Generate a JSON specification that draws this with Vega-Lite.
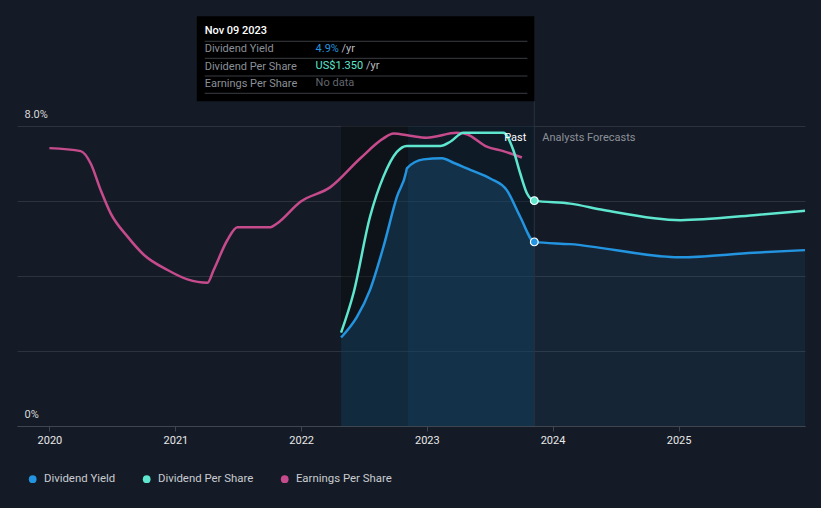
{
  "$schema": "https://vega.github.io/schema/vega-lite/v6.json",
  "width": 788,
  "height": 300,
  "autosize": {"type": "none"},
  "padding": {"left": 17, "top": 126, "right": 16, "bottom": 82},
  "background": "#151b26",
  "config": {
    "view": {"stroke": null},
    "font": "Roboto",
    "text": {"font": "Roboto", "fontSize": 11}
  },
  "datasets": {
    "series": [
      {"date": "2020-01-01", "series": "Earnings Per Share", "value": 7.41},
      {"date": "2020-04-01", "series": "Earnings Per Share", "value": 7.33},
      {"date": "2020-04-30", "series": "Earnings Per Share", "value": 7.0},
      {"date": "2020-05-29", "series": "Earnings Per Share", "value": 6.29},
      {"date": "2020-06-27", "series": "Earnings Per Share", "value": 5.67},
      {"date": "2020-08-15", "series": "Earnings Per Share", "value": 5.05},
      {"date": "2020-10-02", "series": "Earnings Per Share", "value": 4.56},
      {"date": "2020-12-09", "series": "Earnings Per Share", "value": 4.16},
      {"date": "2021-02-05", "series": "Earnings Per Share", "value": 3.91},
      {"date": "2021-04-04", "series": "Earnings Per Share", "value": 3.82},
      {"date": "2021-04-22", "series": "Earnings Per Share", "value": 4.16},
      {"date": "2021-06-01", "series": "Earnings Per Share", "value": 4.96},
      {"date": "2021-06-30", "series": "Earnings Per Share", "value": 5.3},
      {"date": "2021-10-04", "series": "Earnings Per Share", "value": 5.3},
      {"date": "2021-10-23", "series": "Earnings Per Share", "value": 5.4},
      {"date": "2021-12-30", "series": "Earnings Per Share", "value": 5.98},
      {"date": "2022-03-27", "series": "Earnings Per Share", "value": 6.37},
      {"date": "2022-06-22", "series": "Earnings Per Share", "value": 7.14},
      {"date": "2022-08-28", "series": "Earnings Per Share", "value": 7.67},
      {"date": "2022-09-26", "series": "Earnings Per Share", "value": 7.8},
      {"date": "2022-11-13", "series": "Earnings Per Share", "value": 7.74},
      {"date": "2023-01-01", "series": "Earnings Per Share", "value": 7.69},
      {"date": "2023-03-29", "series": "Earnings Per Share", "value": 7.82},
      {"date": "2023-04-27", "series": "Earnings Per Share", "value": 7.78},
      {"date": "2023-06-24", "series": "Earnings Per Share", "value": 7.45},
      {"date": "2023-08-11", "series": "Earnings Per Share", "value": 7.33},
      {"date": "2023-10-04", "series": "Earnings Per Share", "value": 7.16},
      {"date": "2022-04-27", "series": "Dividend Per Share", "value": 2.49},
      {"date": "2022-06-02", "series": "Dividend Per Share", "value": 3.54},
      {"date": "2022-07-20", "series": "Dividend Per Share", "value": 5.58},
      {"date": "2022-08-28", "series": "Dividend Per Share", "value": 6.65},
      {"date": "2022-10-06", "series": "Dividend Per Share", "value": 7.31},
      {"date": "2022-11-04", "series": "Dividend Per Share", "value": 7.47},
      {"date": "2023-02-09", "series": "Dividend Per Share", "value": 7.47},
      {"date": "2023-03-10", "series": "Dividend Per Share", "value": 7.58},
      {"date": "2023-04-17", "series": "Dividend Per Share", "value": 7.82},
      {"date": "2023-08-11", "series": "Dividend Per Share", "value": 7.82},
      {"date": "2023-09-09", "series": "Dividend Per Share", "value": 7.36},
      {"date": "2023-09-29", "series": "Dividend Per Share", "value": 6.74},
      {"date": "2023-10-19", "series": "Dividend Per Share", "value": 6.2},
      {"date": "2023-11-09", "series": "Dividend Per Share", "value": 6.01},
      {"date": "2024-02-21", "series": "Dividend Per Share", "value": 5.93},
      {"date": "2024-05-28", "series": "Dividend Per Share", "value": 5.76},
      {"date": "2025-01-06", "series": "Dividend Per Share", "value": 5.49},
      {"date": "2025-08-07", "series": "Dividend Per Share", "value": 5.62},
      {"date": "2026-01-03", "series": "Dividend Per Share", "value": 5.74},
      {"date": "2022-04-27", "series": "Dividend Yield", "value": 2.36},
      {"date": "2022-06-12", "series": "Dividend Yield", "value": 2.91},
      {"date": "2022-07-20", "series": "Dividend Yield", "value": 3.63},
      {"date": "2022-08-28", "series": "Dividend Yield", "value": 4.78},
      {"date": "2022-10-06", "series": "Dividend Yield", "value": 6.11},
      {"date": "2022-11-02", "series": "Dividend Yield", "value": 6.78},
      {"date": "2022-11-04", "series": "Dividend Yield", "value": 6.87},
      {"date": "2022-12-22", "series": "Dividend Yield", "value": 7.11},
      {"date": "2023-02-14", "series": "Dividend Yield", "value": 7.14},
      {"date": "2023-03-19", "series": "Dividend Yield", "value": 7.02},
      {"date": "2023-05-07", "series": "Dividend Yield", "value": 6.83},
      {"date": "2023-07-04", "series": "Dividend Yield", "value": 6.6},
      {"date": "2023-08-21", "series": "Dividend Yield", "value": 6.29},
      {"date": "2023-09-29", "series": "Dividend Yield", "value": 5.58},
      {"date": "2023-11-09", "series": "Dividend Yield", "value": 4.91},
      {"date": "2024-02-21", "series": "Dividend Yield", "value": 4.85},
      {"date": "2025-01-06", "series": "Dividend Yield", "value": 4.5},
      {"date": "2025-08-07", "series": "Dividend Yield", "value": 4.62},
      {"date": "2026-01-03", "series": "Dividend Yield", "value": 4.69}
    ],
    "bands": [
      {"start": "2022-04-27", "end": "2023-11-09", "band": "dark"},
      {"start": "2022-11-07", "end": "2023-11-09", "band": "past"}
    ],
    "one": [{}]
  },
  "layer": [
    {
      "data": {"name": "bands"},
      "transform": [{"filter": "datum.band == 'dark'"}],
      "mark": {"type": "rect", "color": "#000000", "opacity": 0.32},
      "encoding": {
        "x": {
          "field": "start", "type": "temporal",
          "scale": {"type": "utc", "nice": false, "domain": [{"year": 2019, "month": 9, "date": 29, "utc": true}, {"year": 2026, "month": 1, "date": 3, "utc": true}]},
          "axis": {
            "title": null, "grid": false, "format": "%Y",
            "values": [{"year": 2020, "utc": true}, {"year": 2021, "utc": true}, {"year": 2022, "utc": true}, {"year": 2023, "utc": true}, {"year": 2024, "utc": true}, {"year": 2025, "utc": true}],
            "domainColor": "#40464f", "tickColor": "#40464f", "tickSize": 5,
            "labelColor": "#e8e8e8", "labelFontSize": 11, "labelPadding": 3, "labelFont": "Roboto"
          }
        },
        "x2": {"field": "end"},
        "y": {
          "datum": 0, "type": "quantitative",
          "scale": {"domain": [0, 8], "nice": false},
          "axis": {
            "title": null, "values": [0, 2, 4, 6, 8], "grid": true, "gridColor": "#2d333d",
            "domain": false, "ticks": false,
            "labelExpr": "datum.value == 8 ? '8.0%' : (datum.value == 0 ? '0%' : '')",
            "labelAlign": "left", "labelPadding": -7, "labelBaseline": "middle", "labelOffset": -12,
            "labelColor": "#d5d7da", "labelFontSize": 11, "labelFont": "Roboto"
          }
        },
        "y2": {"datum": 8}
      }
    },
    {
      "data": {"name": "bands"},
      "transform": [{"filter": "datum.band == 'past'"}],
      "mark": {"type": "rect", "color": "#2394df", "opacity": 0.07},
      "encoding": {
        "x": {"field": "start", "type": "temporal"},
        "x2": {"field": "end"},
        "y": {"datum": 0, "type": "quantitative"},
        "y2": {"datum": 8}
      }
    },
    {
      "data": {"name": "series"},
      "transform": [{"filter": "datum.series == 'Dividend Yield' && time(datum.date) <= utc(2023, 10, 9)"}],
      "mark": {"type": "area", "interpolate": "monotone", "color": "#2394df", "opacity": 0.19},
      "encoding": {
        "x": {"field": "date", "type": "temporal"},
        "y": {"field": "value", "type": "quantitative"},
        "y2": {"datum": 0}
      }
    },
    {
      "data": {"name": "series"},
      "transform": [{"filter": "datum.series == 'Dividend Yield' && time(datum.date) >= utc(2023, 10, 9)"}],
      "mark": {"type": "area", "interpolate": "monotone", "color": "#2394df", "opacity": 0.09},
      "encoding": {
        "x": {"field": "date", "type": "temporal"},
        "y": {"field": "value", "type": "quantitative"},
        "y2": {"datum": 0}
      }
    },
    {
      "data": {"name": "one"},
      "mark": {"type": "rule", "color": "#263340", "strokeWidth": 1},
      "encoding": {
        "x": {"datum": {"year": 2023, "month": 11, "date": 9, "utc": true}, "type": "temporal"},
        "y": {"datum": 0, "type": "quantitative"},
        "y2": {"datum": 8.66}
      }
    },
    {
      "data": {"name": "series"},
      "mark": {"type": "line", "interpolate": "monotone", "strokeWidth": 2.5},
      "encoding": {
        "x": {"field": "date", "type": "temporal"},
        "y": {"field": "value", "type": "quantitative"},
        "color": {
          "field": "series", "type": "nominal",
          "scale": {"domain": ["Dividend Yield", "Dividend Per Share", "Earnings Per Share"], "range": ["#2394df", "#5ee6cf", "#c64b8c"]},
          "legend": {
            "title": null, "orient": "none", "legendX": 10, "legendY": 347, "direction": "horizontal",
            "symbolType": "circle", "symbolSize": 60, "columnPadding": 25, "labelOffset": 5.5, "padding": 0,
            "labelColor": "#c9ccd1", "labelFontSize": 11.4, "labelFont": "Roboto",
            "encode": {"symbols": {"update": {"fill": {"scale": "color", "field": "value"}, "stroke": {"value": "transparent"}, "strokeWidth": {"value": 0}}}}
          }
        },
        "order": {"field": "series", "sort": "descending"}
      }
    },
    {
      "data": {"name": "series"},
      "transform": [{"filter": "time(datum.date) == utc(2023, 10, 9)"}],
      "mark": {"type": "point", "filled": true, "size": 60, "stroke": "#ffffff", "strokeWidth": 1.2, "opacity": 1},
      "encoding": {
        "x": {"field": "date", "type": "temporal"},
        "y": {"field": "value", "type": "quantitative"},
        "color": {"field": "series", "type": "nominal", "legend": null}
      }
    },
    {
      "data": {"name": "one"},
      "mark": {"type": "text", "align": "right", "baseline": "middle", "dx": -8, "color": "#ffffff", "fontSize": 11},
      "encoding": {
        "x": {"datum": {"year": 2023, "month": 11, "date": 9, "utc": true}, "type": "temporal"},
        "y": {"datum": 7.68, "type": "quantitative"},
        "text": {"value": "Past"}
      }
    },
    {
      "data": {"name": "one"},
      "mark": {"type": "text", "align": "left", "baseline": "middle", "dx": 8, "color": "#8c9199", "fontSize": 11},
      "encoding": {
        "x": {"datum": {"year": 2023, "month": 11, "date": 9, "utc": true}, "type": "temporal"},
        "y": {"datum": 7.68, "type": "quantitative"},
        "text": {"value": "Analysts Forecasts"}
      }
    },
    {
      "data": {"name": "one"},
      "mark": {"type": "rect", "color": "#000000", "opacity": 1},
      "encoding": {
        "x": {"datum": {"year": 2021, "month": 3, "date": 4, "utc": true}, "type": "temporal"},
        "x2": {"datum": {"year": 2023, "month": 11, "date": 9, "utc": true}},
        "y": {"datum": 8.66, "type": "quantitative"},
        "y2": {"datum": 10.93}
      }
    },
    {
      "data": {"name": "one"},
      "mark": {"type": "rule", "color": "#3a3d42", "strokeWidth": 1},
      "encoding": {
        "x": {"datum": {"year": 2021, "month": 3, "date": 27, "utc": true}, "type": "temporal"},
        "x2": {"datum": {"year": 2023, "month": 10, "date": 20, "utc": true}},
        "y": {"datum": 10.259, "type": "quantitative"}
      }
    },
    {
      "data": {"name": "one"},
      "mark": {"type": "rule", "color": "#3a3d42", "strokeWidth": 1},
      "encoding": {
        "x": {"datum": {"year": 2021, "month": 3, "date": 27, "utc": true}, "type": "temporal"},
        "x2": {"datum": {"year": 2023, "month": 10, "date": 20, "utc": true}},
        "y": {"datum": 9.805, "type": "quantitative"}
      }
    },
    {
      "data": {"name": "one"},
      "mark": {"type": "rule", "color": "#3a3d42", "strokeWidth": 1},
      "encoding": {
        "x": {"datum": {"year": 2021, "month": 3, "date": 27, "utc": true}, "type": "temporal"},
        "x2": {"datum": {"year": 2023, "month": 10, "date": 20, "utc": true}},
        "y": {"datum": 9.333, "type": "quantitative"}
      }
    },
    {
      "data": {"name": "one"},
      "mark": {"type": "rule", "color": "#3a3d42", "strokeWidth": 1},
      "encoding": {
        "x": {"datum": {"year": 2021, "month": 3, "date": 27, "utc": true}, "type": "temporal"},
        "x2": {"datum": {"year": 2023, "month": 10, "date": 20, "utc": true}},
        "y": {"datum": 8.872, "type": "quantitative"}
      }
    },
    {
      "data": {"name": "one"},
      "mark": {"type": "text", "align": "left", "baseline": "middle", "color": "#ffffff", "fontSize": 11, "fontWeight": 500},
      "encoding": {
        "x": {"datum": {"year": 2021, "month": 3, "date": 27, "utc": true}, "type": "temporal"},
        "y": {"datum": 10.525, "type": "quantitative"},
        "text": {"value": "Nov 09 2023"}
      }
    },
    {
      "data": {"name": "one"},
      "mark": {"type": "text", "align": "left", "baseline": "middle", "color": "#8b9097", "fontSize": 11, "lineHeight": 17.4},
      "encoding": {
        "x": {"datum": {"year": 2021, "month": 3, "date": 27, "utc": true}, "type": "temporal"},
        "y": {"datum": 10.045, "type": "quantitative"},
        "text": {"value": ["Dividend Yield", "Dividend Per Share", "Earnings Per Share"]}
      }
    },
    {
      "data": {"name": "one"},
      "mark": {"type": "text", "align": "left", "baseline": "middle", "color": "#2394df", "fontSize": 11},
      "encoding": {
        "x": {"datum": {"year": 2022, "month": 2, "date": 12, "utc": true}, "type": "temporal"},
        "y": {"datum": 10.045, "type": "quantitative"},
        "text": {"value": "4.9%"}
      }
    },
    {
      "data": {"name": "one"},
      "mark": {"type": "text", "align": "left", "baseline": "middle", "color": "#b8bcc2", "fontSize": 11},
      "encoding": {
        "x": {"datum": {"year": 2022, "month": 4, "date": 28, "utc": true}, "type": "temporal"},
        "y": {"datum": 10.045, "type": "quantitative"},
        "text": {"value": "/yr"}
      }
    },
    {
      "data": {"name": "one"},
      "mark": {"type": "text", "align": "left", "baseline": "middle", "color": "#5ee6cf", "fontSize": 11},
      "encoding": {
        "x": {"datum": {"year": 2022, "month": 2, "date": 12, "utc": true}, "type": "temporal"},
        "y": {"datum": 9.6, "type": "quantitative"},
        "text": {"value": "US$1.350"}
      }
    },
    {
      "data": {"name": "one"},
      "mark": {"type": "text", "align": "left", "baseline": "middle", "color": "#b8bcc2", "fontSize": 11},
      "encoding": {
        "x": {"datum": {"year": 2022, "month": 7, "date": 8, "utc": true}, "type": "temporal"},
        "y": {"datum": 9.6, "type": "quantitative"},
        "text": {"value": "/yr"}
      }
    },
    {
      "data": {"name": "one"},
      "mark": {"type": "text", "align": "left", "baseline": "middle", "color": "#62666d", "fontSize": 11},
      "encoding": {
        "x": {"datum": {"year": 2022, "month": 2, "date": 12, "utc": true}, "type": "temporal"},
        "y": {"datum": 9.147, "type": "quantitative"},
        "text": {"value": "No data"}
      }
    }
  ]
}
